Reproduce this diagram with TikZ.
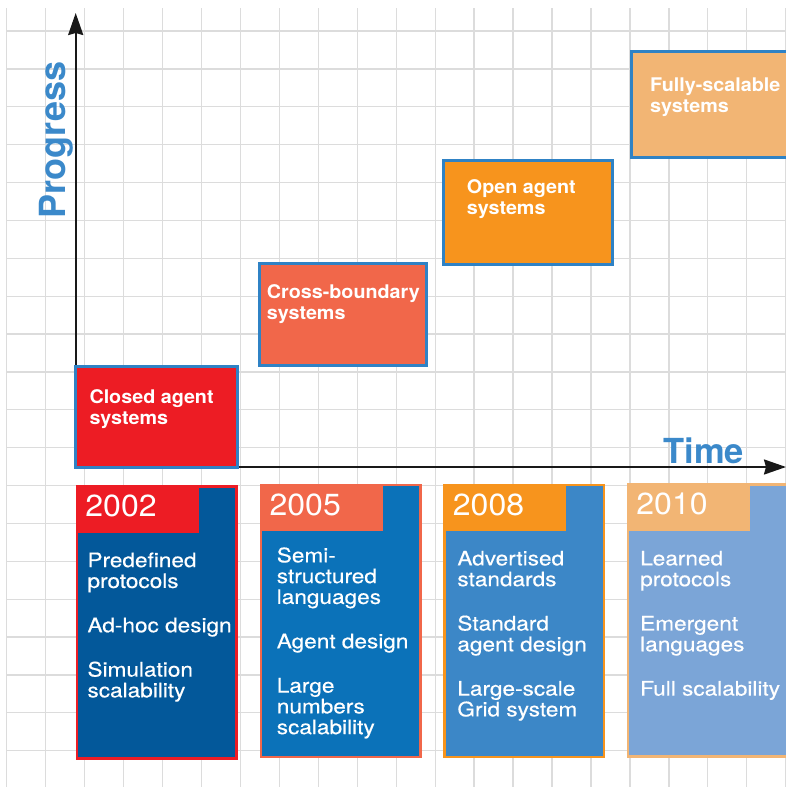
\documentclass[tikz,border=0pt]{standalone}
\usepackage{fontspec}
\setmainfont{TeX Gyre Heros}
\newfontfamily\headfont{TeX Gyre Heros}
\newfontfamily\labelfont[FakeStretch=1.05]{TeX Gyre Heros}
\newfontfamily\bodyfont[FakeStretch=1.13, FakeBold=0.4]{TeX Gyre Heros}
\usetikzlibrary{
  arrows.meta,   % Stealth arrow tips
  calc,          % offsets from named nodes
  positioning    % relative placement
}
\definecolor{gridgray}{HTML}{DCDCDC}
\definecolor{axisblue}{HTML}{3B89CA}
\definecolor{boxblue}{HTML}{2F82C5}
\definecolor{closedred}{HTML}{ED1C24}
\definecolor{crosssalmon}{HTML}{F1674A}
\definecolor{openorange}{HTML}{F7941D}
\definecolor{fullpeach}{HTML}{F2B574}
\definecolor{navyblue}{HTML}{03589A}
\definecolor{midblue}{HTML}{0B72B9}
\definecolor{skyblue}{HTML}{3C87C7}
\definecolor{paleblue}{HTML}{7BA5D7}

\begin{document}
\begin{tikzpicture}[x=1pt, y=-1pt, >={Stealth[length=22pt, width=15pt, inset=2pt]},
  gridline/.style={draw=gridgray, line width=1.3pt},
  stagebox/.style={draw=boxblue, line width=3pt, anchor=north west, outer sep=0pt, inner sep=0pt},
  % first line always 16pt high, so the top of a text sits 16pt above its first baseline
  stagetext/.style={anchor=north west, align=left, inner sep=0pt, text=white,
    execute at begin node=\rule{0pt}{16pt},
    font=\labelfont\bfseries\fontsize{18.8}{21}\selectfont},
  card/.style={line width=2.5pt, anchor=north west, outer sep=0pt, inner sep=0pt,
    minimum width=159.5pt, minimum height=272pt},
  yearhead/.style={anchor=north west, outer sep=0pt, inner sep=0pt,
    minimum width=123pt, minimum height=47.5pt},
  yeartext/.style={anchor=base west, inner sep=0pt, text=white,
    font=\labelfont\fontsize{30.5}{30.5}\selectfont},
  cardtext/.style={anchor=north west, align=left, inner sep=0pt, text=white,
    execute at begin node=\rule{0pt}{16pt},
    font=\bodyfont\fontsize{20}{20.8}\selectfont},
  axislabel/.style={inner sep=0pt, text=axisblue}]

    \clip (0,0) rectangle (786,787);

    % --- background grid ---
    \foreach \i in {0,...,20}{
      \draw[gridline] (6.7+38.95*\i, 8) -- (6.7+38.95*\i, 787);
    }
    \foreach \j in {0,...,19}{
      \draw[gridline] (6.7, 31+37.88*\j) -- (786, 31+37.88*\j);
    }

    % --- axes ---
    \coordinate (origin) at (75.7,467);
    \coordinate (ytip) at (75.7,13);
    \coordinate (xtip) at (786,467);
    \draw[->, line width=2.2pt, black!90] (origin) -- (ytip);
    \draw[->, line width=2.2pt, black!90] (origin) -- (xtip);
    \node[axislabel, rotate=90, anchor=base, font=\headfont\bfseries\fontsize{36}{36}\selectfont] (progress) at (65,140) {Progress};
    \node[axislabel, anchor=base west, font=\headfont\bfseries\fontsize{34.5}{34.5}\selectfont] (time) at (663.3,463.3) {Time};

    % --- stages ---
    \node[stagebox, fill=closedred, minimum width=161.8pt, minimum height=100.8pt] (closed) at (75.7,366.7) {};
    \node[stagetext] (closedtxt) at ($(closed.north west)+(13.6,22.3)$) {Closed agent\\systems};

    \node[stagebox, fill=crosssalmon, minimum width=166.5pt, minimum height=102.3pt] (cross) at (259.5,263) {};
    \node[stagetext] (crosstxt) at ($(cross.north west)+(7.2,21)$) {Cross-boundary\\systems};

    \node[stagebox, fill=openorange, minimum width=169pt, minimum height=103.5pt] (open) at (443,160.5) {};
    \node[stagetext] (opentxt) at ($(open.north west)+(23.7,19.2)$) {Open agent\\systems};

    \node[stagebox, fill=fullpeach, minimum width=170pt, minimum height=105.5pt] (full) at (631.5,51.5) {};
    \node[stagetext] (fulltxt) at ($(full.north west)+(18.5,25.8)$) {Fully-scalable\\systems};

    % --- 2002 ---
    \node[card, draw=closedred, fill=navyblue] (c2002) at (77,486.3) {};
    \node[yearhead, fill=closedred] (h2002) at ($(c2002.north west)+(-1.3,-1.3)$) {};
    \node[yeartext] (y2002) at ($(h2002.north west)+(9.5,31.6)$) {2002};
    \node[cardtext] (t2002) at ($(h2002.north west)+(11.6,67.3)$)
      {Predefined\\protocols\\[23.5pt]Ad-hoc design\\[23.5pt]Simulation\\scalability};

    % --- 2005 ---
    \node[card, draw=crosssalmon, fill=midblue] (c2005) at (261.2,485.2) {};
    \node[yearhead, fill=crosssalmon] (h2005) at ($(c2005.north west)+(-1.3,-1.3)$) {};
    \node[yeartext] (y2005) at ($(h2005.north west)+(9.5,31.6)$) {2005};
    \node[cardtext] (t2005) at ($(h2005.north west)+(16.7,63.3)$)
      {Semi-\\structured\\languages\\[23.5pt]Agent design\\[23.5pt]Large\\numbers\\scalability};

    % --- 2008 ---
    \node[card, draw=openorange, fill=skyblue] (c2008) at (444.5,485.2) {};
    \node[yearhead, fill=openorange] (h2008) at ($(c2008.north west)+(-1.3,-1.3)$) {};
    \node[yeartext] (y2008) at ($(h2008.north west)+(9.5,31.6)$) {2008};
    \node[cardtext] (t2008) at ($(h2008.north west)+(14,66.7)$)
      {Advertised\\standards\\[23.5pt]Standard\\agent design\\[23.5pt]Large-scale\\Grid system};

    % --- 2010 ---
    \node[card, draw=fullpeach, fill=paleblue] (c2010) at (628,484.5) {};
    \node[yearhead, fill=fullpeach] (h2010) at ($(c2010.north west)+(-1.3,-1.3)$) {};
    \node[yeartext] (y2010) at ($(h2010.north west)+(9.5,31.6)$) {2010};
    \node[cardtext] (t2010) at ($(h2010.north west)+(13.3,67.4)$)
      {Learned\\protocols\\[23.5pt]Emergent\\languages\\[23.5pt]Full scalability};

  \end{tikzpicture}
\end{document}
